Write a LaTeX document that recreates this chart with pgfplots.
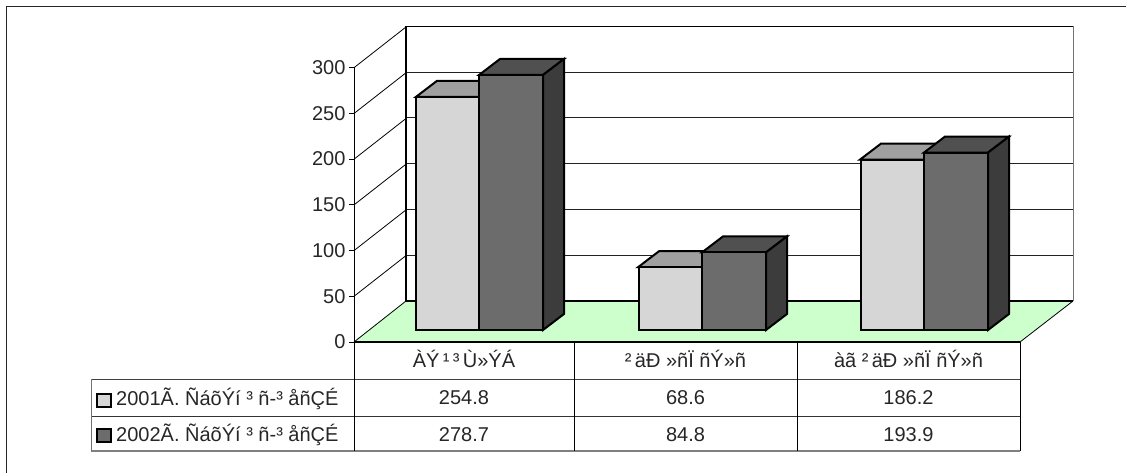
\documentclass[border=0pt]{standalone}
\usepackage{fontspec}
\setmainfont{Liberation Sans}
\usepackage{pgfplots}
\pgfplotsset{compat=1.18}
\definecolor{floorg}{HTML}{CCFFCC}
\definecolor{lfront}{HTML}{D6D6D6}
\definecolor{ltop}{HTML}{A0A0A0}
\definecolor{dfront}{HTML}{6C6C6C}
\definecolor{dtop}{HTML}{505050}
\definecolor{dside}{HTML}{3C3C3C}
\definecolor{lineg}{HTML}{222222}
\pgfplotsset{base/.style={scale only axis,width=666pt,height=274.5pt,xmin=354,xmax=1020,ymin=0,ymax=300,clip=false}}
\newcommand\fs{\fontsize{20}{22}\selectfont}
\begin{document}
\begin{tikzpicture}
\path[use as bounding box] (0,0) rectangle (1126pt,473pt);
\begin{scope}[x=1pt,y=-1pt,yshift=473pt]
 % outer frame
 \draw[line width=1.6pt,black!85] (6.5,473) -- (6.5,6.5) -- (1126,6.5);
 % floor
 \fill[floorg] (354,342) -- (406,301) -- (1073,301) -- (1020,342) -- cycle;
 \draw[line width=.8pt,black] (354,342) -- (406,301);
 \draw[line width=.8pt,black] (1020,342) -- (1073,301);
 % side wall
 \foreach \f in {296.3,250.6,204.9,159.2,113.5,67.7}{
   \draw[line width=.8pt,black] (354,\f) -- (406,\f-40.7);
 }
\end{scope}
% back wall
\begin{axis}[base,at={(406pt,172pt)},anchor=south west,xmin=406,xmax=1073,width=667pt,
  axis line style={draw=none},tick style={draw=none},xtick=\empty,
  ymajorgrids,ytick={50,100,...,250},
  grid style={line width=1pt,lineg},yticklabels={}]
 \addplot[line width=1.6pt,black] coordinates {(406,300)(406,0)(1073,0)};
 \addplot[line width=1.1pt,black] coordinates {(406,300)(1073,300)};
 \addplot[line width=1.4pt,black!55] coordinates {(1073.5,300)(1073.5,0)};
\end{axis}
% front axis
\begin{axis}[base,at={(354pt,131pt)},anchor=south west,
  axis x line=bottom,axis y line=left,axis line style={-,line width=1pt,black},
  ytick={0,50,...,300},xtick={464,685.5,908.5},
  xticklabels={{ÀÝ\,¹\,³\,Ù»ÝÁ},{²\,äÐ »ñÏ ñÝ»ñ},{àã ²\,äÐ »ñÏ ñÝ»ñ}},
  tick style={black,line width=.8pt},
  major tick length=5pt,tick align=outside,
  x tick style={draw=none},
  ticklabel style={font=\fs,text=black!85},
  x tick label style={yshift=0pt},
  /pgf/number format/assume math mode=true]
 \addplot[line width=1.8pt,black] coordinates {(354,0)(1020,0)};
\end{axis}
% bars
\begin{axis}[base,at={(354pt,143pt)},anchor=south west,axis lines=none]
 % light tops
 \addplot[fill=ltop,draw=black,line width=2pt] coordinates {(416,254.8)(437,272.3)(500,272.3)(479,254.8)} -- cycle;
 \addplot[fill=ltop,draw=black,line width=2pt] coordinates {(638,68.6)(659,86.1)(723,86.1)(702,68.6)} -- cycle;
 \addplot[fill=ltop,draw=black,line width=2pt] coordinates {(860,186.2)(881,203.7)(945,203.7)(924,186.2)} -- cycle;
 % light fronts
 \addplot[ybar,bar width=63pt,bar shift=0pt,fill=lfront,draw=black,line width=2pt] coordinates {(447.5,254.8)(670,68.6)(892,186.2)};
 % dark tops
 \addplot[fill=dtop,draw=black,line width=2pt] coordinates {(479,278.7)(500,296.2)(564,296.2)(543,278.7)} -- cycle;
 \addplot[fill=dtop,draw=black,line width=2pt] coordinates {(702,84.8)(723,102.3)(787,102.3)(766,84.8)} -- cycle;
 \addplot[fill=dtop,draw=black,line width=2pt] coordinates {(924,193.9)(945,211.4)(1009,211.4)(988,193.9)} -- cycle;
 % dark sides
 \addplot[fill=dside,draw=black,line width=2pt] coordinates {(543,0)(564,17.5)(564,296.2)(543,278.7)} -- cycle;
 \addplot[fill=dside,draw=black,line width=2pt] coordinates {(766,0)(787,17.5)(787,102.3)(766,84.8)} -- cycle;
 \addplot[fill=dside,draw=black,line width=2pt] coordinates {(988,0)(1009,17.5)(1009,211.4)(988,193.9)} -- cycle;
 % dark fronts
 \addplot[ybar,bar width=64pt,bar shift=0pt,fill=dfront,draw=black,line width=2pt] coordinates {(511,278.7)(734,84.8)(956,193.9)};
\end{axis}
\begin{scope}[x=1pt,y=-1pt,yshift=473pt]
 % table
 \draw[line width=.9pt,black!75] (91,379) -- (1020,379);
 \draw[line width=.9pt,black!80] (91,416) -- (1020,416);
 \draw[line width=1.4pt,black!50] (91,451) -- (1020,451);
 \draw[line width=1pt,black!55] (91,379) -- (91,451);
 \foreach \c in {354,574,797,1020}{\draw[line width=.9pt,black] (\c,342) -- (\c,451);}
 \draw[line width=1.9pt,black,fill=lfront] (97,407) rectangle (111,394);
 \draw[line width=1.9pt,black,fill=dfront] (97,442) rectangle (111,429);
 \node[anchor=west,font=\fs,text=black!85,inner sep=0pt] at (116,399) {2001Ã. ÑáõÝí ³ ñ-³ åñÇÉ};
 \node[anchor=west,font=\fs,text=black!85,inner sep=0pt] at (116,435) {2002Ã. ÑáõÝí ³ ñ-³ åñÇÉ};
 \foreach \x/\a/\b in {464/254.8/278.7,685.5/68.6/84.8,908.5/186.2/193.9}{
   \node[font=\fs,text=black!85] at (\x,398) {\a};
   \node[font=\fs,text=black!85] at (\x,435) {\b};
 }
\end{scope}
\end{tikzpicture}
\end{document}
